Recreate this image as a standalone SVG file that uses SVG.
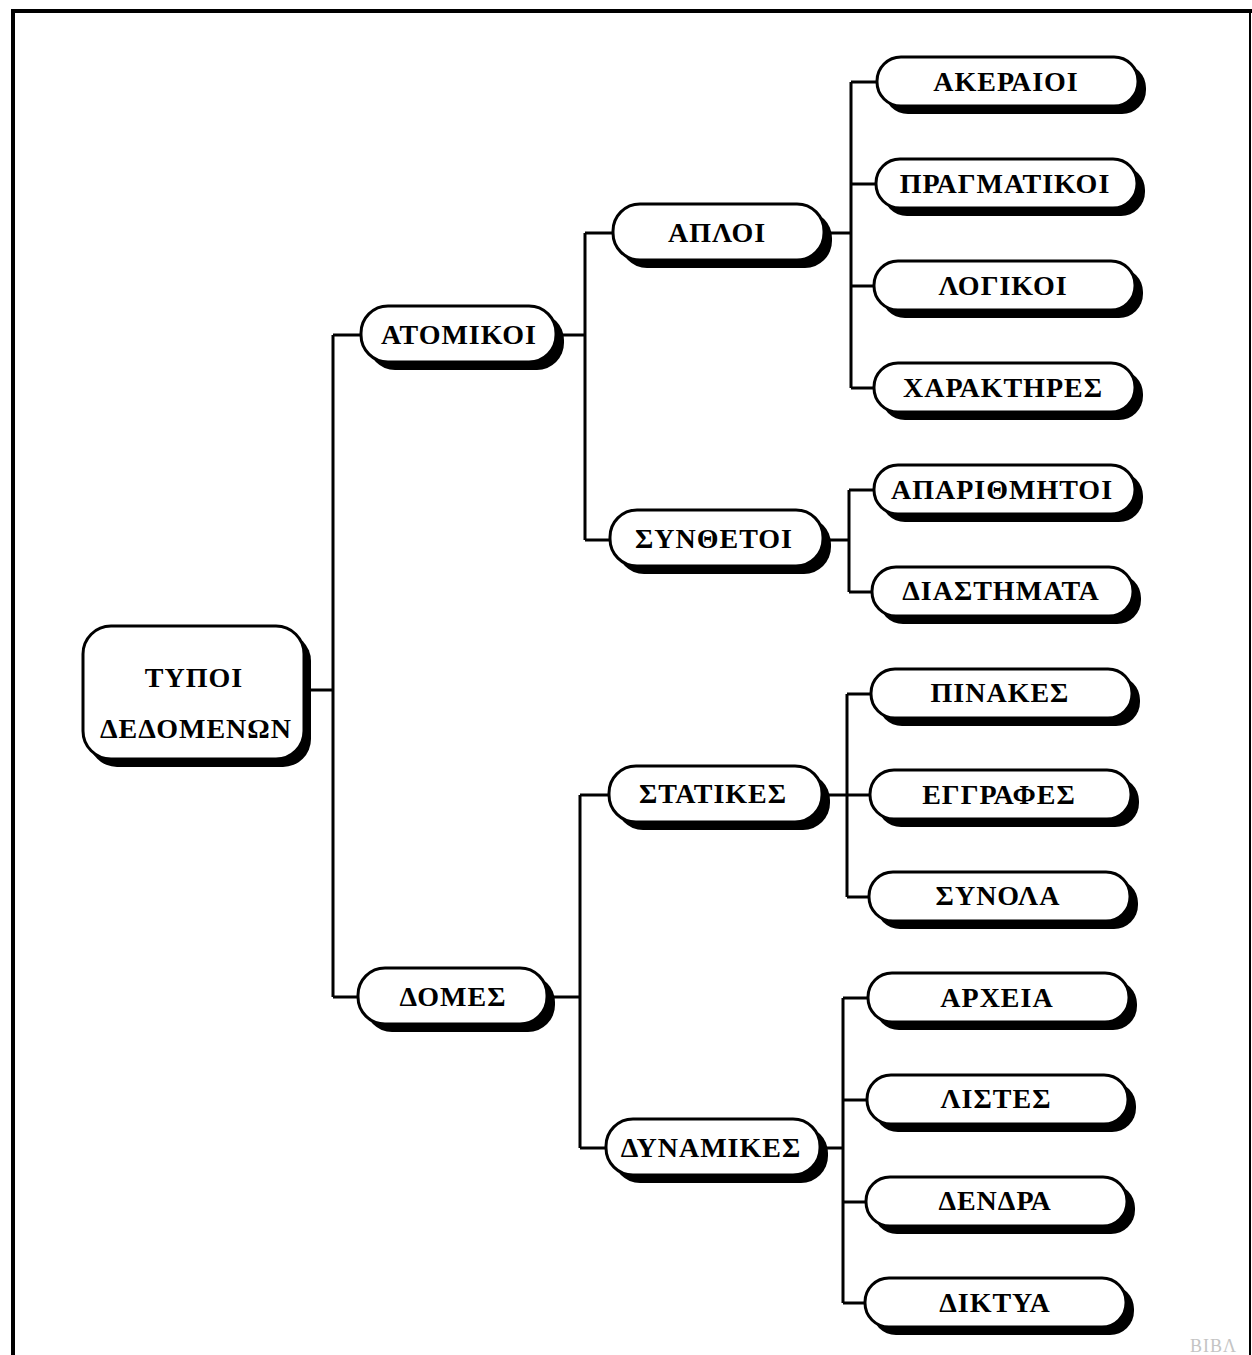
<svg xmlns="http://www.w3.org/2000/svg" width="1252" height="1355" viewBox="0 0 1252 1355">
  <style>
    .bg { fill: #ffffff; }
    .frame { fill: none; stroke: #000; stroke-linecap: square; }
    .shadow { fill: #000; }
    .box { fill: #fff; stroke: #000; stroke-width: 3; }
    .lbl { font-family: "Liberation Serif", "DejaVu Serif", serif; font-weight: bold; font-size: 28px; letter-spacing: 1px; fill: #000; text-anchor: middle; dominant-baseline: central; }
    .wire { fill: none; stroke: #000; stroke-width: 3; stroke-linejoin: miter; }
    .mark { font-family: "Liberation Serif", serif; font-size: 18px; fill: #c4c4c4; letter-spacing: 1px; }
  </style>
  <rect class="bg" x="0" y="0" width="1252" height="1355"/>

  <!-- page frame (open at the bottom) -->
  <path class="frame" d="M13,1355 V11 H1250" stroke-width="4"/>
  <path class="frame" d="M1250,11 V1355" stroke-width="2"/>

  <!-- connectors -->
  <g id="connectors" class="wire">
    <path d="M310,690 H333 M333,335 V997 M333,335 H362 M333,997 H359"/>
    <path d="M563,335 H585 M585,233 V540 M585,233 H614 M585,540 H611"/>
    <path d="M553,997 H580 M580,795 V1148 M580,795 H610 M580,1148 H607"/>
    <path d="M830,233 H851 M851,82 V388 M851,82 H878 M851,184 H877 M851,286 H875 M851,388 H875"/>
    <path d="M830,540 H849 M849,490 V592 M849,490 H875 M849,592 H873"/>
    <path d="M828,795 H847 M847,694 V897 M847,694 H872 M847,795 H871 M847,897 H870"/>
    <path d="M826,1148 H843 M843,998 V1303 M843,998 H869 M843,1100 H868 M843,1202 H867 M843,1303 H866"/>
  </g>

  <!-- root -->
  <g id="n-root">
    <rect class="shadow" x="89" y="633" width="222" height="134" rx="28"/>
    <rect class="box" x="83" y="626" width="221" height="133" rx="28"/>
    <text class="lbl" x="194" y="677">ΤΥΠΟΙ</text>
    <text class="lbl" x="196" y="728">ΔΕΔΟΜΕΝΩΝ</text>
  </g>

  <!-- level 1 -->
  <g id="n-atomikoi">
    <rect class="shadow" x="368" y="313" width="196" height="57" rx="27"/>
    <rect class="box" x="361" y="306" width="195" height="56" rx="27"/>
    <text class="lbl" x="459" y="334">ΑΤΟΜΙΚΟΙ</text>
  </g>
  <g id="n-domes">
    <rect class="shadow" x="365" y="975" width="190" height="57" rx="27"/>
    <rect class="box" x="358" y="968" width="189" height="56" rx="27"/>
    <text class="lbl" x="453" y="996">ΔΟΜΕΣ</text>
  </g>

  <!-- level 2 -->
  <g id="n-aploi">
    <rect class="shadow" x="620" y="211" width="212" height="57" rx="27"/>
    <rect class="box" x="613" y="204" width="211" height="56" rx="27"/>
    <text class="lbl" x="717" y="232">ΑΠΛΟΙ</text>
  </g>
  <g id="n-synthetoi">
    <rect class="shadow" x="617" y="517" width="214" height="57" rx="27"/>
    <rect class="box" x="610" y="510" width="213" height="56" rx="27"/>
    <text class="lbl" x="714" y="538">ΣΥΝΘΕΤΟΙ</text>
  </g>
  <g id="n-statikes">
    <rect class="shadow" x="616" y="773" width="214" height="57" rx="27"/>
    <rect class="box" x="609" y="766" width="213" height="56" rx="27"/>
    <text class="lbl" x="713" y="793">ΣΤΑΤΙΚΕΣ</text>
  </g>
  <g id="n-dynamikes">
    <rect class="shadow" x="613" y="1126" width="215" height="57" rx="27"/>
    <rect class="box" x="606" y="1119" width="214" height="56" rx="27"/>
    <text class="lbl" x="711" y="1147">ΔΥΝΑΜΙΚΕΣ</text>
  </g>

  <!-- leaves -->
  <g id="n-akeraioi">
    <rect class="shadow" x="884" y="64" width="262" height="50" rx="24"/>
    <rect class="box" x="877" y="57" width="261" height="49" rx="24"/>
    <text class="lbl" x="1006" y="81">ΑΚΕΡΑΙΟΙ</text>
  </g>
  <g id="n-pragmatikoi">
    <rect class="shadow" x="883" y="166" width="262" height="50" rx="24"/>
    <rect class="box" x="876" y="159" width="261" height="49" rx="24"/>
    <text class="lbl" x="1005" y="183">ΠΡΑΓΜΑΤΙΚΟΙ</text>
  </g>
  <g id="n-logikoi">
    <rect class="shadow" x="881" y="268" width="262" height="50" rx="24"/>
    <rect class="box" x="874" y="261" width="261" height="49" rx="24"/>
    <text class="lbl" x="1003" y="285">ΛΟΓΙΚΟΙ</text>
  </g>
  <g id="n-charaktires">
    <rect class="shadow" x="881" y="370" width="262" height="50" rx="24"/>
    <rect class="box" x="874" y="363" width="261" height="49" rx="24"/>
    <text class="lbl" x="1003" y="387">ΧΑΡΑΚΤΗΡΕΣ</text>
  </g>
  <g id="n-aparithmitoi">
    <rect class="shadow" x="881" y="472" width="262" height="50" rx="24"/>
    <rect class="box" x="874" y="465" width="261" height="49" rx="24"/>
    <text class="lbl" x="1002" y="489">ΑΠΑΡΙΘΜΗΤΟΙ</text>
  </g>
  <g id="n-diastimata">
    <rect class="shadow" x="879" y="574" width="262" height="50" rx="24"/>
    <rect class="box" x="872" y="567" width="261" height="49" rx="24"/>
    <text class="lbl" x="1001" y="590">ΔΙΑΣΤΗΜΑΤΑ</text>
  </g>
  <g id="n-pinakes">
    <rect class="shadow" x="878" y="676" width="262" height="50" rx="24"/>
    <rect class="box" x="871" y="669" width="261" height="49" rx="24"/>
    <text class="lbl" x="1000" y="692">ΠΙΝΑΚΕΣ</text>
  </g>
  <g id="n-eggrafes">
    <rect class="shadow" x="877" y="777" width="262" height="50" rx="24"/>
    <rect class="box" x="870" y="770" width="261" height="49" rx="24"/>
    <text class="lbl" x="999" y="794">ΕΓΓΡΑΦΕΣ</text>
  </g>
  <g id="n-synola">
    <rect class="shadow" x="876" y="879" width="262" height="50" rx="24"/>
    <rect class="box" x="869" y="872" width="261" height="49" rx="24"/>
    <text class="lbl" x="998" y="895">ΣΥΝΟΛΑ</text>
  </g>
  <g id="n-archeia">
    <rect class="shadow" x="875" y="980" width="262" height="50" rx="24"/>
    <rect class="box" x="868" y="973" width="261" height="49" rx="24"/>
    <text class="lbl" x="997" y="997">ΑΡΧΕΙΑ</text>
  </g>
  <g id="n-listes">
    <rect class="shadow" x="874" y="1082" width="262" height="50" rx="24"/>
    <rect class="box" x="867" y="1075" width="261" height="49" rx="24"/>
    <text class="lbl" x="996" y="1098">ΛΙΣΤΕΣ</text>
  </g>
  <g id="n-dendra">
    <rect class="shadow" x="873" y="1184" width="262" height="50" rx="24"/>
    <rect class="box" x="866" y="1177" width="261" height="49" rx="24"/>
    <text class="lbl" x="995" y="1200">ΔΕΝΔΡΑ</text>
  </g>
  <g id="n-diktya">
    <rect class="shadow" x="872" y="1285" width="262" height="50" rx="24"/>
    <rect class="box" x="865" y="1278" width="261" height="49" rx="24"/>
    <text class="lbl" x="995" y="1302">ΔΙΚΤΥΑ</text>
  </g>

  <!-- faint stamp at the lower right edge -->
  <text class="mark" x="1190" y="1352">ΒΙΒΛ</text>
</svg>
